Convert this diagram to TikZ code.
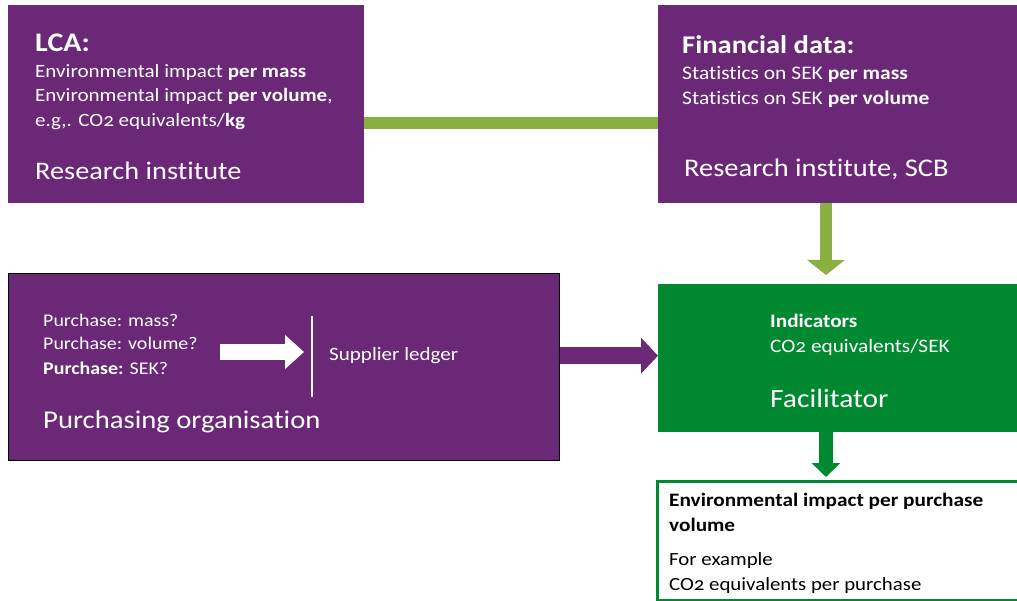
\documentclass[tikz,border=0pt]{standalone}
\usepackage{fontspec}
\setmainfont{Carlito}[Numbers=OldStyle, FakeStretch=1.12, Ligatures={NoCommon,NoDiscretionary,NoRare}]
\usetikzlibrary{arrows.meta}
\definecolor{plum}{RGB}{106,40,119}
\definecolor{leaf}{RGB}{138,176,67}
\definecolor{forest}{RGB}{0,137,48}
\tikzset{
  panel/.style={anchor=north west, inner sep=0pt, draw=none},
  txt/.style={anchor=base west, inner sep=0pt, text=white},
  dtxt/.style={anchor=base west, inner sep=0pt, text=black},
  fs/.style={font=\fontsize{#1}{#1}\selectfont},
}
\begin{document}
\begin{tikzpicture}[x=1pt,y=-1pt]
\useasboundingbox (0,0) rectangle (1017,601);

% boxes
\node[panel, fill=plum, minimum width=356pt, minimum height=198pt] (lca) at (8,5) {};
\node[panel, fill=plum, minimum width=359pt, minimum height=198pt] (fin) at (658,5) {};
\node[panel, fill=plum, draw=black, line width=1pt, minimum width=551pt, minimum height=187pt] (pur) at (8,273) {};
\node[panel, fill=forest, minimum width=359pt, minimum height=148pt] (ind) at (658,284) {};
\node[panel, fill=white, draw=forest, line width=2.5pt, minimum width=363pt, minimum height=119pt] (res) at (656,480) {};

% connectors
\coordinate (axis) at (826,0);
\draw[leaf, line width=12pt] ([yshift=-19pt]lca.east) -- ([yshift=-19pt]lca.east -| fin.west);
\draw[leaf, line width=12pt, -{Triangle[width=37pt,length=15pt]}, shorten >=9pt]
  (fin.south -| axis) -- (ind.north -| axis);
\draw[plum, line width=17pt, -{Triangle[width=35pt,length=17pt]}]
  ([yshift=2.5pt]ind.west -| pur.east) -- ([yshift=2.5pt]ind.west);
\draw[forest, line width=14pt, -{Triangle[width=28pt,length=14pt]}, shorten >=3pt]
  (ind.south -| axis) -- (res.north -| axis);

% LCA panel
\node[txt, fs=26.8] (lcaT) at (35,52) {\bfseries LCA:};
\node[txt, fs=18.8] (lca1) at (35,78) {Environmental impact \textbf{per mass}};
\node[txt, fs=18.8] (lca2) at (35,102) {Environmental impact \textbf{per volume},};
\node[txt, fs=18.8] (lca3) at (35,127) {e.g,. CO2 equivalents/\textbf{kg}};
\node[txt, fs=25.3] (lcaR) at (35,180) {Research institute};

% financial panel
\node[txt, fs=25.5] (finT) at (682,54) {\bfseries Financial data:};
\node[txt, fs=19.2] (fin1) at (682,80) {Statistics on SEK \textbf{per mass}};
\node[txt, fs=19.2] (fin2) at (682,105) {Statistics on SEK \textbf{per volume}};
\node[txt, fs=25.4] (finR) at (684,177) {Research institute, SCB};

% purchasing panel
\node[txt, fs=17.8] (q1) at (43,327) {Purchase: mass?};
\node[txt, fs=17.8] (q2) at (43,350) {Purchase: volume?};
\node[txt, fs=17.8] (q3) at (43,374) {\textbf{Purchase:} SEK?};
\coordinate (wa) at (220,352);
\coordinate (wb) at (304,352);
\draw[white, line width=16pt, -{Triangle[width=33pt,length=19pt]}] (wa) -- (wb);
\coordinate (sepA) at (312,316);
\coordinate (sepB) at (312,397);
\draw[white, line width=1.5pt] (sepA) -- (sepB);
\node[txt, fs=18.8] (ledger) at (329,361) {Supplier ledger};
\node[txt, fs=25.6] (purR) at (43,428) {Purchasing organisation};

% indicators panel
\node[txt, fs=19] (ind1) at (770,328) {\bfseries Indicators};
\node[txt, fs=19] (ind2) at (770,353) {CO2 equivalents/SEK};
\node[txt, fs=26.3] (indR) at (770,407) {Facilitator};

% result panel
\node[dtxt, fs=19] (res1) at (669,506) {\bfseries Environmental impact per purchase};
\node[dtxt, fs=19] (res2) at (669,531) {\bfseries volume};
\node[dtxt, fs=18.6] (res3) at (669,565) {For example};
\node[dtxt, fs=18.6] (res4) at (669,590) {CO2 equivalents per purchase};
\end{tikzpicture}
\end{document}
